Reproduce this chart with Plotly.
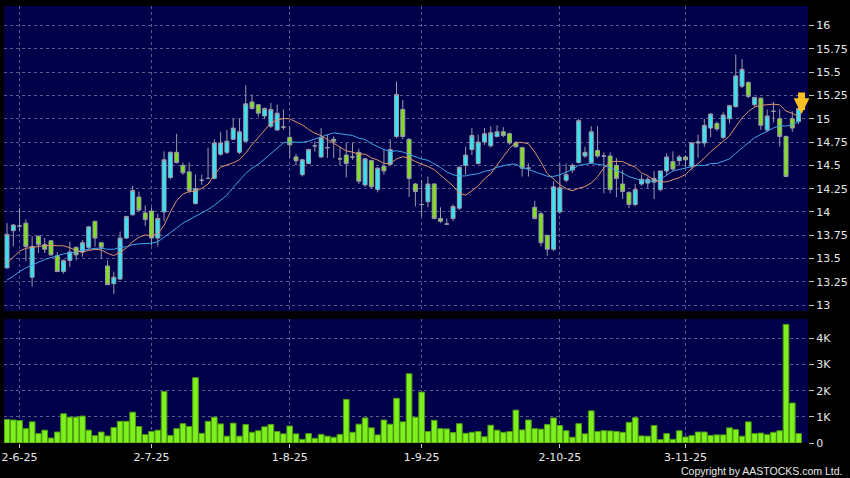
import plotly.graph_objects as go
import pandas as pd

# ---------------- data ----------------
hk_holidays = ["2025-07-01", "2025-10-01", "2025-10-07", "2025-10-29"]
dates = [d.strftime("%Y-%m-%d") for d in pd.bdate_range("2025-05-29", "2025-11-27")
         if d.strftime("%Y-%m-%d") not in hk_holidays]

opens = [13.40, 13.80, 13.85, 13.88, 13.30, 13.74, 13.65, 13.69, 13.53, 13.36,
         13.48, 13.62, 13.57, 13.62, 13.90, 13.67, 13.42, 13.23, 13.28, 13.72,
         13.97, 14.16, 13.99, 14.01, 13.72, 14.00, 14.37, 14.64, 14.50, 14.43,
         14.09, 14.34, 14.36, 14.36, 14.62, 14.64, 14.78, 14.64, 14.76, 15.18,
         15.15, 15.03, 14.92, 14.88, 14.91, 14.80, 14.59, 14.40, 14.52, 14.71,
         14.59, 14.69, 14.78, 14.57, 14.61, 14.59, 14.64, 14.29, 14.55, 14.24,
         14.49, 14.51, 14.81, 15.10, 14.78, 14.30, 14.08, 14.11, 14.30, 13.93,
         13.87, 13.93, 14.04, 14.50, 14.67, 14.52, 14.75, 14.71, 14.81, 14.86,
         14.84, 14.74, 14.69, 14.47, 14.05, 13.98, 13.75, 13.60, 14.00, 14.34,
         14.45, 14.53, 14.60, 14.53, 14.66, 14.60, 14.60, 14.50, 14.30, 14.21,
         14.08, 14.30, 14.31, 14.32, 14.24, 14.44, 14.54, 14.55, 14.59, 14.49,
         14.74, 14.74, 14.90, 14.95, 14.80, 15.00, 15.13, 15.35, 15.39, 15.15,
         15.22, 14.88, 15.08, 15.00, 14.81, 15.00, 14.97]
highs = [13.88, 13.87, 14.04, 13.92, 13.74, 13.75, 13.72, 13.70, 13.57, 13.49,
         13.68, 13.63, 13.70, 13.85, 13.90, 13.67, 13.48, 13.36, 13.79, 13.96,
         14.28, 14.22, 14.07, 14.05, 13.98, 14.65, 14.65, 14.84, 14.53, 14.53,
         14.40, 14.40, 14.69, 14.78, 14.86, 14.88, 15.00, 15.00, 15.36, 15.26,
         15.16, 15.12, 15.17, 15.15, 15.10, 14.92, 14.62, 14.57, 14.68, 14.76,
         14.90, 14.83, 14.81, 14.70, 14.74, 14.74, 14.68, 14.58, 14.56, 14.48,
         14.67, 14.78, 15.40, 15.20, 14.79, 14.31, 14.34, 14.38, 14.31, 14.05,
         13.93, 14.08, 14.49, 14.70, 14.90, 14.83, 14.90, 14.92, 14.93, 14.91,
         14.85, 14.76, 14.70, 14.52, 14.12, 14.00, 13.75, 14.33, 14.52, 14.52,
         14.52, 15.00, 14.70, 14.92, 14.92, 14.64, 14.64, 14.58, 14.45, 14.22,
         14.30, 14.40, 14.38, 14.44, 14.44, 14.63, 14.65, 14.61, 14.61, 14.75,
         14.83, 15.00, 15.06, 14.97, 15.07, 15.15, 15.69, 15.64, 15.40, 15.23,
         15.23, 15.10, 15.18, 15.10, 14.82, 15.08, 15.13]
lows = [13.39, 13.63, 13.79, 13.47, 13.20, 13.56, 13.56, 13.53, 13.36, 13.34,
        13.41, 13.48, 13.52, 13.60, 13.63, 13.50, 13.22, 13.12, 13.27, 13.71,
        13.96, 14.00, 13.85, 13.64, 13.63, 13.90, 14.35, 14.52, 14.40, 14.20,
        14.08, 14.29, 14.36, 14.35, 14.60, 14.62, 14.77, 14.62, 14.75, 15.10,
        15.02, 15.00, 14.90, 14.87, 14.88, 14.58, 14.50, 14.38, 14.51, 14.65,
        14.58, 14.58, 14.58, 14.50, 14.37, 14.56, 14.30, 14.27, 14.26, 14.21,
        14.40, 14.50, 14.79, 14.78, 14.16, 14.06, 13.95, 14.05, 13.92, 13.88,
        13.86, 13.90, 14.02, 14.40, 14.61, 14.51, 14.72, 14.69, 14.80, 14.80,
        14.72, 14.69, 14.38, 14.38, 13.92, 13.63, 13.53, 13.58, 13.98, 14.32,
        14.42, 14.52, 14.58, 14.52, 14.58, 14.20, 14.20, 14.16, 14.14, 14.04,
        14.06, 14.28, 14.25, 14.14, 14.22, 14.40, 14.44, 14.50, 14.48, 14.45,
        14.58, 14.70, 14.80, 14.87, 14.78, 14.95, 15.12, 15.33, 15.22, 15.13,
        14.88, 14.86, 14.96, 14.70, 14.38, 14.86, 14.94]
closes = [13.76, 13.86, 13.85, 13.63, 13.63, 13.65, 13.60, 13.54, 13.36, 13.48,
          13.57, 13.54, 13.67, 13.84, 13.72, 13.62, 13.22, 13.30, 13.72, 13.95,
          14.23, 14.02, 13.92, 13.72, 13.93, 14.56, 14.64, 14.53, 14.42, 14.23,
          14.25, 14.34, 14.36, 14.74, 14.74, 14.76, 14.90, 14.86, 15.16, 15.11,
          15.06, 15.11, 15.10, 15.06, 14.91, 14.72, 14.55, 14.56, 14.67, 14.71,
          14.80, 14.69, 14.76, 14.57, 14.52, 14.59, 14.33, 14.57, 14.27, 14.47,
          14.44, 14.67, 15.26, 14.81, 14.36, 14.22, 14.08, 14.30, 13.93, 13.90,
          13.87, 14.06, 14.48, 14.61, 14.82, 14.75, 14.84, 14.85, 14.86, 14.82,
          14.74, 14.70, 14.47, 14.47, 13.93, 13.67, 13.60, 14.27, 14.26, 14.40,
          14.50, 14.98, 14.64, 14.86, 14.60, 14.60, 14.24, 14.36, 14.22, 14.08,
          14.24, 14.35, 14.35, 14.36, 14.44, 14.59, 14.46, 14.59, 14.56, 14.74,
          14.75, 14.93, 15.05, 14.89, 15.04, 15.14, 15.46, 15.53, 15.24, 15.23,
          14.93, 15.03, 15.08, 14.81, 14.38, 14.90, 15.11]
volumes = [900, 880, 860, 550, 810, 360, 490, 190, 420, 1120,
           990, 990, 1030, 490, 280, 420, 270, 590, 830, 830,
           1180, 630, 320, 440, 490, 1970, 290, 550, 740, 630,
           2500, 370, 830, 990, 730, 260, 760, 260, 710, 410,
           470, 620, 710, 440, 350, 650, 350, 140, 360, 180,
           330, 260, 220, 330, 1670, 410, 720, 960, 580, 310,
           880, 720, 1710, 810, 2650, 990, 1950,
           440, 870, 550, 540, 400, 740, 370, 410, 440, 240,
           680, 490, 410, 440, 1260, 500, 880, 550, 530, 710,
           960, 670, 470, 220, 740, 350, 1230, 440, 470, 460,
           440, 410, 790, 970, 270, 260, 670, 130, 360, 140,
           470, 230, 280, 420, 420, 290, 310, 310, 580, 510,
           260, 810, 360, 380, 320, 410, 470, 4540, 1530, 360]

# moving-average values before the window fills
ma10_lead = [13.45, 13.52, 13.58, 13.61, 13.62, 13.63, 13.64, 13.64, 13.64]
ma20_lead = [13.27, 13.31, 13.36, 13.40, 13.43, 13.46, 13.49, 13.51, 13.53, 13.55,
             13.56, 13.57, 13.59, 13.60, 13.61, 13.61, 13.60, 13.60, 13.62]

tick_dates = ["2025-06-02", "2025-07-02", "2025-08-01", "2025-09-01", "2025-10-02", "2025-11-03"]
tick_labels = ["2-6-25", "2-7-25", "1-8-25", "1-9-25", "2-10-25", "3-11-25"]
price_ticks = [13, 13.25, 13.5, 13.75, 14, 14.25, 14.5, 14.75, 15, 15.25, 15.5, 15.75, 16]
vol_ticks = [0, 1000, 2000, 3000, 4000]
vol_labels = ["0", "1K", "2K", "3K", "4K"]

cs = pd.Series(closes)
ma10 = ma10_lead + cs.rolling(10).mean().tolist()[9:]
ma20 = ma20_lead + cs.rolling(20).mean().tolist()[19:]

# ---------------- style ----------------
BG = "#00004a"
GRID = "#5a5a8e"
UP = "#35e4f4"
DOWN = "#80e01e"
WICK = "#9c9ca8"
TXT = "#e8e8e8"
XR = [-0.48, 127.5]

fig = go.Figure()
fig.add_trace(go.Candlestick(
    x=dates, open=opens, high=highs, low=lows, close=closes,
    increasing=dict(line=dict(color=WICK, width=1), fillcolor=UP),
    decreasing=dict(line=dict(color=WICK, width=1), fillcolor=DOWN),
    whiskerwidth=0, xaxis="x", yaxis="y", hoverinfo="skip", showlegend=False))
fig.add_trace(go.Scatter(x=dates, y=ma20, mode="lines", line=dict(color="#3ea6e8", width=1),
                         xaxis="x", yaxis="y", hoverinfo="skip", showlegend=False))
fig.add_trace(go.Scatter(x=dates, y=ma10, mode="lines", line=dict(color="#e0946a", width=1),
                         xaxis="x", yaxis="y", hoverinfo="skip", showlegend=False))
fig.add_trace(go.Bar(x=dates, y=volumes, marker=dict(color="#7ef01e", line=dict(color="#4f9a12", width=1)),
                     xaxis="x2", yaxis="y2", hoverinfo="skip", showlegend=False))

grid_common = dict(showgrid=True, gridcolor=GRID, gridwidth=1, griddash="3px,3px",
                   zeroline=False, showline=False)

fig.update_layout(
    width=850, height=478,
    margin=dict(l=4, r=42, t=6, b=35, autoexpand=False),
    paper_bgcolor="black", plot_bgcolor=BG,
    font=dict(family="DejaVu Sans", size=11, color=TXT),
    showlegend=False, boxgap=0.1, bargap=0.1,
    xaxis=dict(type="category", domain=[0, 1], anchor="y", range=XR,
               tickvals=tick_dates, showticklabels=False, ticks="",
               rangeslider=dict(visible=False), **grid_common),
    xaxis2=dict(type="category", domain=[0, 1], anchor="y2", range=XR,
                tickvals=tick_dates, ticktext=tick_labels, ticks="outside",
                ticklen=4, tickcolor="#c8c8c8", **grid_common),
    yaxis=dict(domain=[0.302, 1], side="right", range=[12.937, 16.21],
               tickvals=price_ticks, ticks="outside", ticklen=5, tickcolor="#c8c8c8",
               **grid_common),
    yaxis2=dict(domain=[0, 0.284], side="right", range=[0, 4750],
                tickvals=vol_ticks, ticktext=vol_labels, ticks="outside", ticklen=5,
                tickcolor="#c8c8c8", **grid_common),
)

fig.add_annotation(x=dates[-1], y=15.05, xref="x", yref="y", text="", showarrow=True,
                   ax=0, ay=-23, arrowcolor="#f8c020", arrowwidth=7, arrowhead=2,
                   arrowsize=0.45, standoff=0, xshift=3)
fig.add_annotation(text="Copyright by AASTOCKS.com Ltd.", xref="paper", yref="paper",
                   x=1.0448, y=-0.064, xanchor="right", yanchor="middle", showarrow=False,
                   font=dict(family="Liberation Sans", size=10.5, color=TXT))

fig.write_html("out.html", config={"displayModeBar": False},
               post_script="document.body.style.margin='0';document.body.style.background='black';")
